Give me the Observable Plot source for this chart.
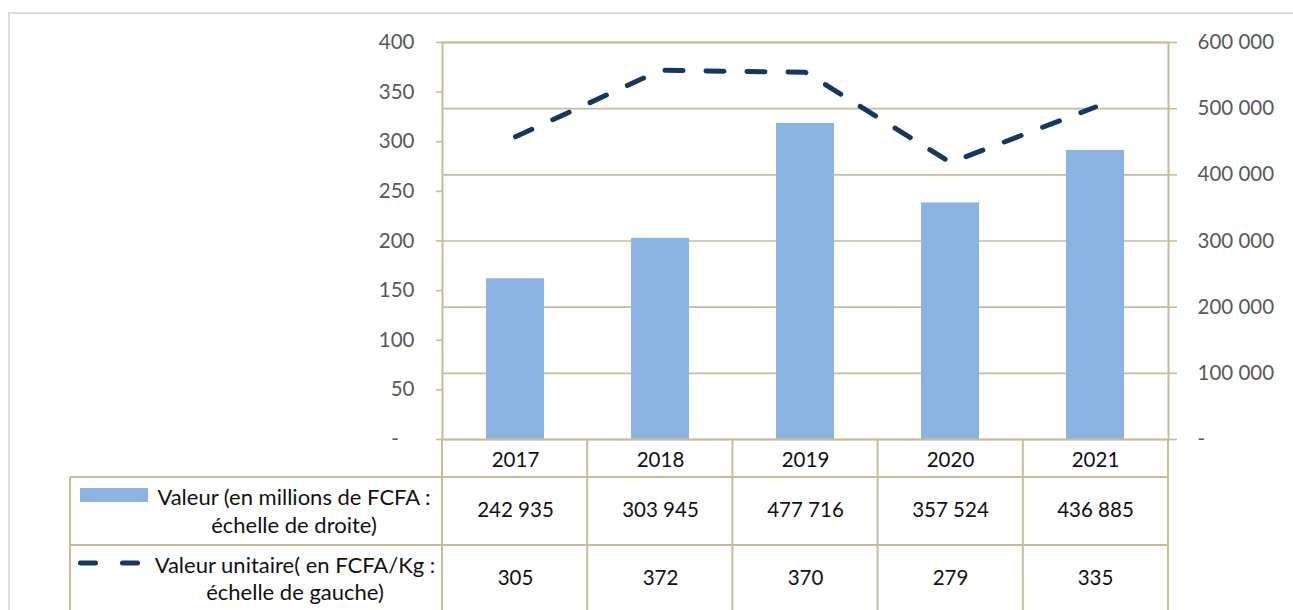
<!DOCTYPE html>
<html>
<head>
<meta charset="utf-8">
<script src="https://cdn.jsdelivr.net/npm/d3@7"></script>
<script src="https://cdn.jsdelivr.net/npm/@observablehq/plot@0.6"></script>
<style>
  html, body { margin: 0; padding: 0; background: #fff; }
  #wrap { position: relative; width: 1293px; height: 610px; overflow: hidden; font-family: Lato, "Open Sans", sans-serif; }
  #frame { position: absolute; left: 8px; top: 12px; width: 1400px; height: 700px; border: 2px solid #dcdcdc; box-sizing: border-box; }
  #chart { position: absolute; left: 0; top: 0; }
</style>
</head>
<body>
<div id="wrap"><div id="frame"></div><div id="chart"></div></div>
<script>
const years = ["2017", "2018", "2019", "2020", "2021"];
const valeur = [242935, 303945, 477716, 357524, 436885];       // millions FCFA (right scale)
const valeurUnitaire = [305, 372, 370, 279, 335];               // FCFA/Kg (left scale)
const leftTicks = [0, 50, 100, 150, 200, 250, 300, 350, 400];
const rightTicks = [0, 100000, 200000, 300000, 400000, 500000, 600000];
const legendBar = ["Valeur (en millions de FCFA :", "échelle de droite)"];
const legendLine = ["Valeur unitaire( en FCFA/Kg :", "échelle de gauche)"];

const ratio = 600000 / 400; // left scale -> right scale
const data = years.map((y, i) => ({year: y, valeur: valeur[i], unit: valeurUnitaire[i]}));

const W = 1293, H = 610, mL = 442, mR = 125, mT = 42, mB = 171;
const grid = "#c4bd97", axisText = "#595959", FONT = "Lato, 'Open Sans', sans-serif";
const fmt = v => d3.format(",")(v).replace(/,/g, " ");

const plot = Plot.plot({
  width: W, height: H,
  marginLeft: mL, marginRight: mR, marginTop: mT, marginBottom: mB,
  style: {fontFamily: FONT, background: "transparent", overflow: "visible"},
  x: {type: "band", domain: years, paddingInner: 0.6, paddingOuter: 0.3, axis: null},
  y: {domain: [0, 600000], axis: null},
  marks: [
    Plot.ruleY(rightTicks, {stroke: grid, strokeWidth: 1.6}),
    Plot.barY(data, {x: "year", y: "valeur", fill: "#8db3e2"}),
    Plot.frame({stroke: grid, strokeWidth: 2}),
    Plot.axisY(leftTicks.map(v => v * ratio), {
      anchor: "left", tickSize: 6, tickPadding: 22, stroke: grid, strokeWidth: 1.6,
      fill: axisText, fontSize: 20.5, label: null,
      tickFormat: d => d === 0 ? "-\u00a0\u00a0\u00a0" : String(d / ratio)
    }),
    Plot.axisY(rightTicks, {
      anchor: "right", tickSize: 8, tickPadding: 21, stroke: grid, strokeWidth: 1.6,
      fill: axisText, fontSize: 20.5, label: null,
      tickFormat: d => d === 0 ? "-" : fmt(d)
    }),
    Plot.line(data, {
      x: "year", y: d => d.unit * ratio, stroke: "#17375e", strokeWidth: 5,
      strokeDasharray: "18,23", strokeLinecap: "round", strokeLinejoin: "round"
    }),
    // table text
    Plot.text(data, {x: "year", text: "year", frameAnchor: "bottom", dy: 21, lineAnchor: "middle", fontSize: 20.5, fill: "#111"}),
    Plot.text(data, {x: "year", text: d => fmt(d.valeur), frameAnchor: "bottom", dy: 71, lineAnchor: "middle", fontSize: 20.5, fill: "#111"}),
    Plot.text(data, {x: "year", text: d => String(d.unit), frameAnchor: "bottom", dy: 139, lineAnchor: "middle", fontSize: 20.5, fill: "#111"})
  ]
});
document.getElementById("chart").appendChild(plot);

// Data table grid + legend
const svg = d3.select(plot);
const g = svg.append("g").attr("stroke", grid).attr("stroke-width", 2).attr("fill", "none");
const left = mL, right = W - mR, bottom = H - mB;
const step = (right - left) / years.length;
for (let i = 0; i <= years.length; i++) {
  g.append("line").attr("x1", left + i * step).attr("x2", left + i * step).attr("y1", bottom).attr("y2", H + 5);
}
const tLeft = 70;
g.append("line").attr("x1", tLeft).attr("x2", tLeft).attr("y1", 477).attr("y2", H + 5);
g.append("line").attr("x1", tLeft).attr("x2", right).attr("y1", 477).attr("y2", 477);
g.append("line").attr("x1", tLeft).attr("x2", right).attr("y1", 545).attr("y2", 545);

// legend keys
svg.append("rect").attr("x", 80).attr("y", 488).attr("width", 68).attr("height", 14).attr("fill", "#8db3e2");
svg.append("line").attr("x1", 80.5).attr("x2", 137.5).attr("y1", 563).attr("y2", 563)
  .attr("stroke", "#17375e").attr("stroke-width", 5).attr("stroke-linecap", "round").attr("stroke-dasharray", "15,27");

const lt = svg.append("g").attr("font-family", FONT).attr("font-size", 22).attr("fill", "#111").attr("text-anchor", "middle");
legendBar.forEach((t, i) => lt.append("text").attr("x", 294).attr("y", 497 + i * 28).attr("dy", "0.35em").text(t));
legendLine.forEach((t, i) => lt.append("text").attr("x", 295).attr("y", 565 + i * 27).attr("dy", "0.35em").text(t));
</script>
</body>
</html>
